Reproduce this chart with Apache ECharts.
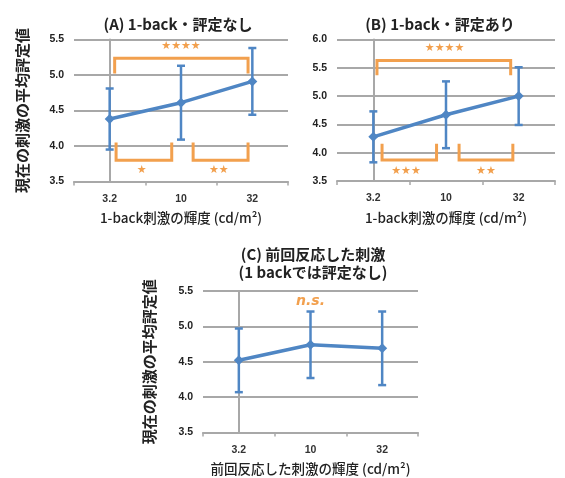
<!DOCTYPE html>
<html>
<head>
<meta charset="utf-8">
<script src="https://cdn.jsdelivr.net/npm/echarts@6/dist/echarts.min.js"></script>
<style>
  html, body { margin: 0; padding: 0; background: #fff; }
  #chart { width: 565px; height: 478px; }
</style>
</head>
<body>
<div id="chart"></div>
<script>
// Luminance conditions (cd/m^2)
const categories = ['3.2', '10', '32'];

// (A) 1-back, not rated: mean rating and error
const meanA = [4.38, 4.61, 4.91];
const errA  = [0.43, 0.52, 0.47];

// (B) 1-back, rated
const meanB = [4.28, 4.67, 5.00];
const errB  = [0.45, 0.59, 0.51];

// (C) previously responded stimulus
const meanC = [4.52, 4.74, 4.69];
const errC  = [0.45, 0.47, 0.52];

// Significance markers
const sigA = ['★★★★', '★', '★★'];
const sigB = ['★★★★', '★★★', '★★'];
const sigC = ['n.s.'];

// Bracket geometry in data units: [xStart, xEnd, yBar, yLeg, labelX, labelY]
const bracketGeomA = [
  [0.07, 1.94, 5.235, 5.02, 1.0, 5.41],
  [0.09, 0.87, 3.80, 4.05, 0.45, 3.66],
  [1.17, 1.94, 3.80, 4.05, 1.53, 3.66]
];
const bracketGeomB = [
  [0.05, 1.89, 5.63, 5.37, 0.98, 5.84],
  [0.12, 0.87, 3.87, 4.16, 0.45, 3.67],
  [1.18, 1.92, 3.87, 4.16, 1.55, 3.67]
];
const nsPosC = [[1.0, 5.35]];

const BLUE = '#4f86c4';
const ORANGE = '#f2a04e';
const GRID = '#a8a8a8';
const JP = '"Noto Sans CJK JP", "Noto Sans", sans-serif';
const Y_NAME = '現在の刺激の平均評定値';

const panels = [
  { grid: { left: 74, top: 39.5, width: 214, height: 142 }, yMax: 5.5,
    mean: meanA, err: errA, title: '(A) 1-back・評定なし', titleX: 173, titleY: 10,
    xName: '1-back刺激の輝度 (cd/m²)', yName: Y_NAME, yNameGap: 44 },
  { grid: { left: 337, top: 39.5, width: 218, height: 141.5 }, yMax: 6.0,
    mean: meanB, err: errB, title: '(B) 1-back・評定あり', titleX: 435, titleY: 10,
    xName: '1-back刺激の輝度 (cd/m²)', yName: '', yNameGap: 44 },
  { grid: { left: 203, top: 291, width: 215, height: 141.5 }, yMax: 5.5,
    mean: meanC, err: errC, title: '(C) 前回反応した刺激\n(1 backでは評定なし)', titleX: 308, titleY: 240,
    xName: '前回反応した刺激の輝度 (cd/m²)', yName: Y_NAME, yNameGap: 46 }
];

const grids = [], xAxes = [], yAxes = [], series = [], titles = [];

panels.forEach((p, i) => {
  grids.push(Object.assign({ containLabel: false }, p.grid));
  titles.push({
    text: p.title, left: p.titleX, top: p.titleY, textAlign: 'center',
    textStyle: { fontFamily: JP, fontSize: 15, fontWeight: 'bold', color: '#222', lineHeight: 18 }
  });
  // visible category axis
  xAxes.push({
    type: 'category', gridIndex: i, data: categories, boundaryGap: true,
    name: p.xName, nameLocation: 'middle', nameGap: 30,
    nameTextStyle: { fontFamily: JP, fontSize: 13.5, fontWeight: 500, color: '#222' },
    axisLine: { show: true, lineStyle: { color: GRID, width: 2 } },
    axisTick: { show: true, length: 4, alignWithLabel: false, lineStyle: { color: GRID, width: 1.5 } },
    axisLabel: { margin: 12, fontFamily: 'Liberation Sans, Arial, sans-serif', fontSize: 10.5, fontWeight: 'bold', color: '#333' }
  });
  // hidden value axis for annotations
  xAxes.push({
    type: 'value', gridIndex: i, min: -0.5, max: 2.5, show: false
  });
  yAxes.push({
    type: 'value', gridIndex: i, min: 3.5, max: p.yMax, interval: 0.5,
    name: p.yName, nameLocation: 'middle', nameGap: p.yNameGap, nameRotate: 90,
    nameTextStyle: { fontFamily: JP, fontSize: 15, fontWeight: 'bold', color: '#222' },
    axisLine: { show: true, lineStyle: { color: GRID, width: 2 } },
    axisTick: { show: true, length: 4, lineStyle: { color: GRID, width: 1.5 } },
    splitLine: { show: true, lineStyle: { color: GRID, width: 1.8 } },
    axisLabel: { margin: 10, fontFamily: 'Liberation Sans, Arial, sans-serif', fontSize: 10.5, fontWeight: 'bold', color: '#222',
      formatter: v => v.toFixed(1) }
  });

  // error bars
  series.push({
    type: 'custom', xAxisIndex: 2 * i, yAxisIndex: i, z: 2,
    data: p.mean.map((m, k) => [k, m - p.err[k], m + p.err[k]]),
    renderItem: (params, api) => {
      const lo = api.coord([api.value(0), api.value(1)]);
      const hi = api.coord([api.value(0), api.value(2)]);
      const cw = 4;
      const st = { stroke: BLUE, lineWidth: 2.5 };
      return { type: 'group', children: [
        { type: 'line', shape: { x1: lo[0], y1: lo[1], x2: hi[0], y2: hi[1] }, style: st },
        { type: 'line', shape: { x1: lo[0] - cw, y1: lo[1], x2: lo[0] + cw, y2: lo[1] }, style: st },
        { type: 'line', shape: { x1: hi[0] - cw, y1: hi[1], x2: hi[0] + cw, y2: hi[1] }, style: st }
      ] };
    }
  });
  // mean line
  series.push({
    type: 'line', xAxisIndex: 2 * i, yAxisIndex: i, z: 3, data: p.mean,
    symbol: 'diamond', symbolSize: 10,
    lineStyle: { color: BLUE, width: 3.5 }, itemStyle: { color: BLUE }
  });
});

// significance brackets and labels
function bracketSeries(geom, labels, gi) {
  series.push({
    type: 'custom', xAxisIndex: 2 * gi + 1, yAxisIndex: gi, z: 4,
    data: geom.map((g, k) => g.concat([k])),
    renderItem: (params, api) => {
      const x1 = api.value(0), x2 = api.value(1), yb = api.value(2), yl = api.value(3);
      const a = api.coord([x1, yl]), b = api.coord([x1, yb]), c = api.coord([x2, yb]), d = api.coord([x2, yl]);
      const t = api.coord([api.value(4), api.value(5)]);
      const lab = labels[api.value(6)];
      return { type: 'group', children: [
        { type: 'polyline', shape: { points: [a, b, c, d] },
          style: { stroke: ORANGE, lineWidth: 3, fill: null } },
        { type: 'text', x: t[0], y: t[1],
          style: { text: lab, fill: ORANGE, font: '11px "DejaVu Sans", sans-serif', align: 'center', verticalAlign: 'middle' } }
      ] };
    }
  });
}
bracketSeries(bracketGeomA, sigA, 0);
bracketSeries(bracketGeomB, sigB, 1);

series.push({
  type: 'custom', xAxisIndex: 5, yAxisIndex: 2, z: 4,
  data: nsPosC,
  renderItem: (params, api) => {
    const t = api.coord([api.value(0), api.value(1)]);
    return { type: 'text', x: t[0], y: t[1],
      style: { text: sigC[0], fill: ORANGE, font: 'italic bold 14px "DejaVu Sans", sans-serif', align: 'center', verticalAlign: 'middle' } };
  }
});

const chart = echarts.init(document.getElementById('chart'), null, { renderer: 'canvas' });
chart.setOption({
  animation: false,
  backgroundColor: '#fff',
  title: titles,
  grid: grids,
  xAxis: xAxes,
  yAxis: yAxes,
  series: series
});
</script>
</body>
</html>
